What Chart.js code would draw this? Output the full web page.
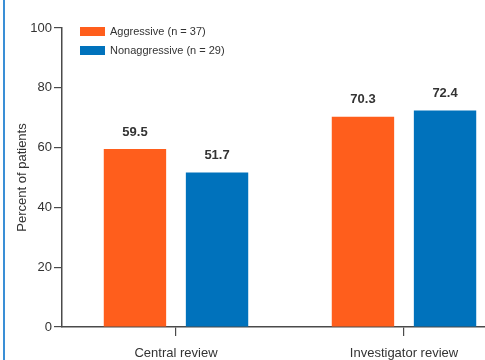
<!DOCTYPE html>
<html>
<head>
<meta charset="utf-8">
<script src="https://cdn.jsdelivr.net/npm/chart.js@4.4.0/dist/chart.umd.min.js"></script>
<style>
  body { margin: 0; background: #fff; overflow: hidden; }
  #wrap { position: relative; width: 485px; height: 360px; overflow: hidden; }
  #frame { position: absolute; left: 3px; top: 0; width: 2px; height: 360px; background: #3a8fd6; }
  canvas { position: absolute; left: 0; top: 0; }
</style>
</head>
<body>
<div id="wrap">
  <canvas id="reviewChart" width="540" height="360"></canvas>
  <div id="frame"></div>
</div>
<script>
// Response rate by review type
const categories = ['Central review', 'Investigator review'];
const seriesNames = ['Aggressive (n = 37)', 'Nonaggressive (n = 29)'];
const aggressive = [59.5, 70.3];
const nonaggressive = [51.7, 72.4];
const yTicks = [0, 20, 40, 60, 80, 100];

const orange = '#ff5e1c';
const blue = '#0072bc';
const ink = '#333333';
const axisColor = '#4a4a4a';

// Bold value above each bar
const valueLabels = {
  id: 'valueLabels',
  afterDatasetsDraw(chart) {
    const ctx = chart.ctx;
    ctx.save();
    ctx.font = 'bold 13px "Liberation Sans", Arial, sans-serif';
    ctx.fillStyle = ink;
    ctx.textAlign = 'center';
    ctx.textBaseline = 'middle';
    chart.data.datasets.forEach((ds, i) => {
      chart.getDatasetMeta(i).data.forEach((bar, j) => {
        ctx.fillText(ds.data[j].toFixed(1), bar.x, bar.y - 17);
      });
    });
    ctx.restore();
  }
};

// Stacked legend in the top-left of the plot
const boxLegend = {
  id: 'boxLegend',
  afterDraw(chart) {
    const ctx = chart.ctx;
    ctx.save();
    ctx.font = '11px "Liberation Sans", Arial, sans-serif';
    ctx.textBaseline = 'middle';
    chart.data.datasets.forEach((ds, i) => {
      const y = 27 + i * 19;
      ctx.fillStyle = ds.backgroundColor;
      ctx.fillRect(80, y, 25, 9);
      ctx.fillStyle = ink;
      ctx.fillText(ds.label, 110, y + 5);
    });
    ctx.restore();
  }
};

new Chart(document.getElementById('reviewChart'), {
  type: 'bar',
  data: {
    labels: categories,
    datasets: [
      { label: seriesNames[0], data: aggressive, backgroundColor: orange },
      { label: seriesNames[1], data: nonaggressive, backgroundColor: blue }
    ]
  },
  options: {
    responsive: false,
    animation: false,
    layout: { padding: { top: 28, right: 22, left: 0, bottom: 0 } },
    datasets: {
      bar: { categoryPercentage: 0.72, barPercentage: 0.76 }
    },
    plugins: {
      legend: { display: false },
      tooltip: { enabled: false }
    },
    scales: {
      x: {
        offset: true,
        grid: {
          offset: false,
          drawOnChartArea: false,
          drawTicks: true,
          tickLength: 9,
          tickColor: axisColor,
          lineWidth: 1.2
        },
        border: { display: true, color: axisColor, width: 1.5 },
        ticks: {
          color: ink,
          padding: 10,
          font: { family: '"Liberation Sans", Arial, sans-serif', size: 13 }
        },
        afterFit(scale) { scale.height = 33; }
      },
      y: {
        min: 0,
        max: 100,
        afterBuildTicks(scale) {
          scale.ticks = yTicks.map(v => ({ value: v }));
        },
        grid: {
          drawOnChartArea: false,
          drawTicks: true,
          tickLength: 8,
          tickColor: axisColor,
          lineWidth: 1.2
        },
        border: { display: true, color: axisColor, width: 1.5 },
        ticks: {
          color: ink,
          padding: 2,
          font: { family: '"Liberation Sans", Arial, sans-serif', size: 13 }
        },
        title: {
          display: true,
          text: 'Percent of patients',
          color: ink,
          padding: { top: 15, bottom: 0 },
          font: { family: '"Liberation Sans", Arial, sans-serif', size: 13 }
        },
        afterFit(scale) { scale.width = 62; }
      }
    }
  },
  plugins: [valueLabels, boxLegend]
});
</script>
</body>
</html>
